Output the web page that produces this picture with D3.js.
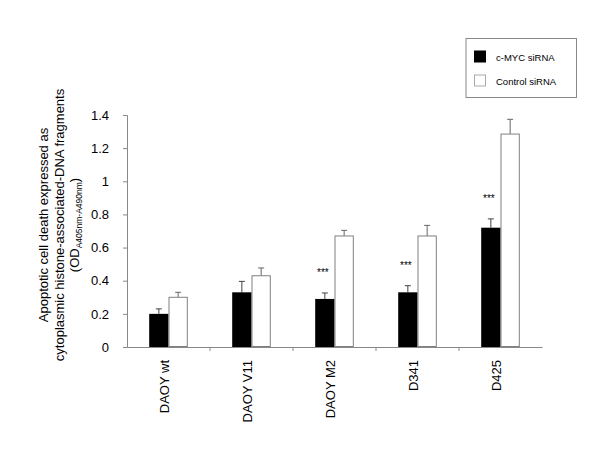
<!DOCTYPE html>
<html><head><meta charset="utf-8">
<script src="https://cdn.jsdelivr.net/npm/d3@7"></script>
<style>body{margin:0;background:#fff}svg{font-family:"Liberation Sans",Arial,sans-serif}</style>
</head><body><svg id="c" width="600" height="450"></svg>
<script>
const categories = ["DAOY wt","DAOY V11","DAOY M2","D341","D425"];
const series = ["c-MYC siRNA","Control siRNA"];
const mycValues = [0.20,0.33,0.29,0.33,0.72];
const mycErrors = [0.03,0.066,0.036,0.04,0.053];
const ctrlValues = [0.30,0.43,0.67,0.67,1.285];
const ctrlErrors = [0.03,0.047,0.034,0.064,0.089];
const significance = ["","","***","***","***"];
const yTicks = [0,0.2,0.4,0.6,0.8,1,1.2,1.4];

const svg = d3.select("#c");
const x0 = 127, x1 = 542, yTop = 115, yBot = 347;
const x = d3.scaleBand().domain(categories).range([x0,x1]);
const y = d3.scaleLinear().domain([0,1.4]).range([yBot,yTop]);
const barW = 19.3;
const axisCol = "#888";

// y axis
const ya = svg.append("g").attr("transform",`translate(${x0},0)`)
  .call(d3.axisLeft(y).tickValues(yTicks).tickSize(4).tickPadding(14).tickFormat(d=>String(d)));
ya.selectAll("path,line").attr("stroke",axisCol);
ya.selectAll("text").attr("font-size",13).attr("fill","#000").attr("font-family","Liberation Sans, Arial");

// x axis
const xa = svg.append("g").attr("transform",`translate(0,${yBot})`)
  .call(d3.axisBottom(x).tickSize(0).tickFormat(""));
xa.select("path").attr("stroke",axisCol);
// boundary ticks
svg.append("g").selectAll("line").data(categories.slice(1)).join("line")
  .attr("x1",d=>x(d)).attr("x2",d=>x(d)).attr("y1",yBot).attr("y2",yBot+4).attr("stroke",axisCol);
// category labels
svg.append("g").selectAll("text").data(categories).join("text")
  .attr("transform",d=>`translate(${x(d)+x.bandwidth()/2},${yBot+13}) rotate(-90)`)
  .attr("text-anchor","end").attr("font-size",13).attr("fill","#000").text(d=>d);

const data = categories.map((c,i)=>({c,m:mycValues[i],me:mycErrors[i],k:ctrlValues[i],ke:ctrlErrors[i],s:significance[i]}));
const g = svg.append("g");
function errBar(cx, v, e, col){
  g.append("line").attr("x1",cx).attr("x2",cx).attr("y1",y(v)).attr("y2",y(v+e)).attr("stroke",col);
  g.append("line").attr("x1",cx-3).attr("x2",cx+3).attr("y1",y(v+e)).attr("y2",y(v+e)).attr("stroke",col);
}
data.forEach(d=>{
  const cx = x(d.c)+x.bandwidth()/2;
  errBar(cx-barW/2, d.m, d.me, "#444");
  errBar(cx+barW/2, d.k, d.ke, "#666");
  g.append("rect").attr("x",cx-barW).attr("y",y(d.m)).attr("width",barW).attr("height",yBot-y(d.m)).attr("fill","#000");
  g.append("rect").attr("x",cx+0.5).attr("y",y(d.k)).attr("width",barW-1).attr("height",yBot-y(d.k)-0.5)
    .attr("fill","#fff").attr("stroke","#808080").attr("stroke-width",1);
  if(d.s) g.append("text").attr("x",cx-barW/2-2).attr("y",y(d.m+d.me)-17).attr("text-anchor","middle")
    .attr("font-size",10).attr("fill","#000").text(d.s);
});

// y label
const lines = ["Apoptotic cell death expressed as","cytoplasmic histone-associated-DNA fragments"];
lines.forEach((t,i)=>{
  svg.append("text").attr("transform",`translate(${48+i*16},225) rotate(-90)`)
    .attr("text-anchor","middle").attr("font-size",13).attr("fill","#000").text(t);
});
const l3 = svg.append("text").attr("transform",`translate(79,225) rotate(-90)`)
  .attr("text-anchor","middle").attr("font-size",13).attr("fill","#000");
l3.append("tspan").text("(OD");
l3.append("tspan").attr("font-size",8.5).attr("dy",3).text("A405nm-A490nm");
l3.append("tspan").attr("dy",-3).text(")");

// legend
const lg = svg.append("g");
lg.append("rect").attr("x",466).attr("y",38.5).attr("width",110.5).attr("height",59).attr("fill","#fff").attr("stroke","#888");
const lcols = ["#000","#fff"];
series.forEach((s,i)=>{
  lg.append("rect").attr("x",474.5).attr("y",51+i*24).attr("width",11).attr("height",11)
    .attr("fill",lcols[i]).attr("stroke",i? "#aaa":"#000");
  lg.append("text").attr("x",496).attr("y",60.5+i*24).attr("font-size",9.5).attr("fill","#000").text(s);
});
</script></body></html>
